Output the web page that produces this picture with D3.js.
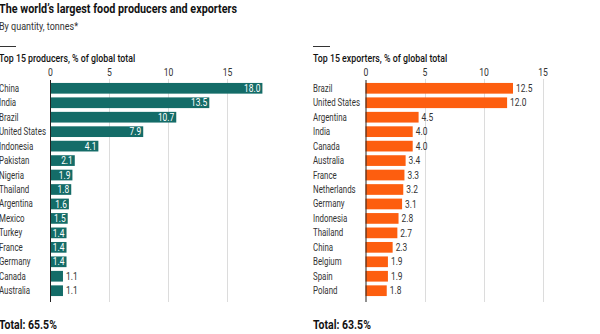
<!DOCTYPE html>
<meta charset="utf-8">
<style>
body { margin: 0; background: #fff; font-family: Roboto, "Noto Sans", sans-serif; }
svg text { fill: #121212; }
.grid line { stroke: #dcdcdc; stroke-width: 1; }
</style>
<svg width="600" height="334"></svg>
<script src="https://cdn.jsdelivr.net/npm/d3@7"></script>
<script>
var prodCountries = ["China","India","Brazil","United States","Indonesia","Pakistan","Nigeria","Thailand","Argentina","Mexico","Turkey","France","Germany","Canada","Australia"];
var prodValues = [18.0,13.5,10.7,7.9,4.1,2.1,1.9,1.8,1.6,1.5,1.4,1.4,1.4,1.1,1.1];
var expCountries = ["Brazil","United States","Argentina","India","Canada","Australia","France","Netherlands","Germany","Indonesia","Thailand","China","Belgium","Spain","Poland"];
var expValues = [12.5,12.0,4.5,4.0,4.0,3.4,3.3,3.2,3.1,2.8,2.7,2.3,1.9,1.9,1.8];
var tickValues = [0,5,10,15];

var svg = d3.select("svg");

// the original face is a condensed one, squeeze Roboto sideways to get close
function squeeze(x, y, s) { return "translate(" + x + "," + y + ") scale(" + s + ",1)"; }

svg.append("text").attr("transform", squeeze(-1, 13, 0.8))
  .style("font-size", "13.5px").style("font-weight", "700")
  .text("The world\u2019s largest food producers and exporters");
svg.append("text").attr("transform", squeeze(-1, 30, 0.9))
  .style("font-size", "10px").style("fill", "#333")
  .text("By quantity, tonnes*");

function panel(x0, labelX, title, total, countries, values, color, inside) {
  var g = svg.append("g");
  var x = d3.scaleLinear().domain([0, 15]).range([x0, x0 + 177]);
  var y = d3.scaleBand().domain(countries).range([81.5, 297.5]).paddingInner(0.26).paddingOuter(0.1);

  g.append("line").attr("x1", labelX).attr("x2", labelX + 17).attr("y1", 46.5).attr("y2", 46.5)
    .style("stroke", "#333").style("stroke-width", 1);
  g.append("text").attr("transform", squeeze(labelX, 62, 0.84))
    .style("font-size", "10.5px").style("font-weight", "500")
    .text(title);

  g.append("g").attr("class", "grid").selectAll("line").data(tickValues.slice(1)).enter().append("line")
    .attr("x1", function(d){ return Math.round(x(d)) + 0.5; })
    .attr("x2", function(d){ return Math.round(x(d)) + 0.5; })
    .attr("y1", 79).attr("y2", 302);

  var ax = g.append("g").attr("transform", "translate(0,77)")
    .call(d3.axisTop(x).tickValues(tickValues).tickSize(0).tickPadding(0).tickFormat(d3.format("d")));
  ax.select(".domain").remove();
  ax.selectAll("text").attr("dy", "-0.1em").attr("transform", "scale(0.82,1)")
    .style("font-family", "Roboto, sans-serif")
    .style("font-size", "10.5px").style("fill", "#333");

  g.selectAll(".bar").data(values).enter().append("rect")
    .attr("x", x(0))
    .attr("y", function(d, i){ return y(countries[i]); })
    .attr("width", function(d){ return x(d) - x(0); })
    .attr("height", y.bandwidth())
    .style("fill", color);

  g.selectAll(".ctry").data(countries).enter().append("text")
    .attr("transform", function(d){ return squeeze(labelX, y(d) + y.bandwidth() / 2, 0.79); })
    .attr("dy", "0.35em")
    .style("font-size", "10px").style("fill", "#333")
    .text(function(d){ return d; });

  g.selectAll(".val").data(values).enter().append("text")
    .attr("transform", function(d, i){
      var xx = inside && d >= 1.3 ? x(d) - 2 : x(d) + 3;
      return squeeze(xx, y(countries[i]) + y.bandwidth() / 2, 0.8);
    })
    .attr("dy", "0.35em")
    .attr("text-anchor", function(d){ return inside && d >= 1.3 ? "end" : "start"; })
    .style("font-size", "10.5px")
    .style("fill", function(d){ return inside && d >= 1.3 ? "#fff" : "#333"; })
    .text(function(d){ return d.toFixed(1); });

  g.append("line").attr("x1", x(0) + 0.5).attr("x2", x(0) + 0.5).attr("y1", 80).attr("y2", 302)
    .style("stroke", "#222").style("stroke-width", 1);

  g.append("text").attr("transform", squeeze(labelX, 329, 0.84))
    .style("font-size", "12.5px").style("font-weight", "700")
    .text(total);
}

panel(50, -1, "Top 15 producers, % of global total", "Total: 65.5%", prodCountries, prodValues, "#146c68", true);
panel(365.5, 313, "Top 15 exporters, % of global total", "Total: 63.5%", expCountries, expValues, "#fd5e0f", false);
</script>
